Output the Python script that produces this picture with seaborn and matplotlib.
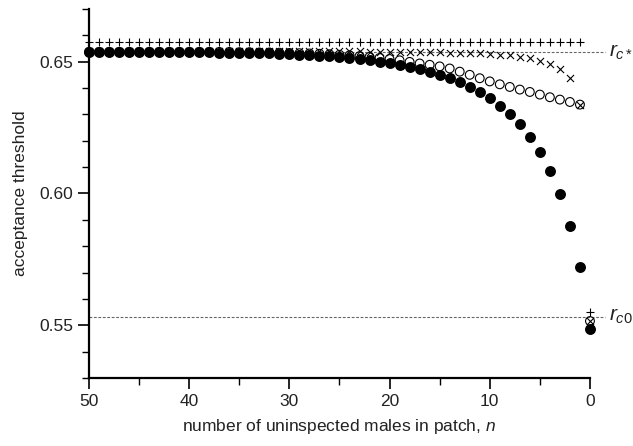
import matplotlib
matplotlib.use("Agg")
import matplotlib.pyplot as plt
from matplotlib.ticker import MultipleLocator, FormatStrFormatter
import seaborn as sns

# number of uninspected males left in the patch (50 -> 0)
N_MALES = [50, 49, 48, 47, 46, 45, 44, 43, 42, 41,
           40, 39, 38, 37, 36, 35, 34, 33, 32, 31,
           30, 29, 28, 27, 26, 25, 24, 23, 22, 21,
           20, 19, 18, 17, 16, 15, 14, 13, 12, 11,
           10, 9, 8, 7, 6, 5, 4, 3, 2, 1, 0]

# acceptance thresholds, one list per marker type (same order as N_MALES)
PLUS = [0.6575, 0.6575, 0.6575, 0.6575, 0.6575, 0.6575, 0.6575, 0.6575, 0.6575, 0.6575,
        0.6575, 0.6575, 0.6575, 0.6575, 0.6575, 0.6575, 0.6575, 0.6575, 0.6575, 0.6575,
        0.6575, 0.6575, 0.6575, 0.6575, 0.6575, 0.6575, 0.6575, 0.6575, 0.6575, 0.6575,
        0.6575, 0.6575, 0.6575, 0.6575, 0.6575, 0.6575, 0.6575, 0.6575, 0.6575, 0.6575,
        0.6575, 0.6575, 0.6575, 0.6575, 0.6575, 0.6575, 0.6575, 0.6575, 0.6575, 0.6575,
        0.5552]
CROSS = [0.6540, 0.6540, 0.6540, 0.6540, 0.6540, 0.6540, 0.6540, 0.6540, 0.6540, 0.6540,
         0.6540, 0.6540, 0.6540, 0.6540, 0.6540, 0.6540, 0.6540, 0.6540, 0.6540, 0.6540,
         0.6540, 0.6540, 0.6540, 0.6540, 0.6540, 0.6540, 0.6539, 0.6539, 0.6538, 0.6538,
         0.6537, 0.6537, 0.6536, 0.6536, 0.6535, 0.6535, 0.6534, 0.6533, 0.6532, 0.6531,
         0.6529, 0.6527, 0.6524, 0.6519, 0.6512, 0.6502, 0.6492, 0.6473, 0.6438, 0.6337,
         0.5516]
OPEN = [0.6537, 0.6537, 0.6537, 0.6537, 0.6537, 0.6537, 0.6537, 0.6537, 0.6537, 0.6537,
        0.6537, 0.6537, 0.6537, 0.6537, 0.6537, 0.6536, 0.6536, 0.6535, 0.6535, 0.6534,
        0.6533, 0.6532, 0.6531, 0.6530, 0.6528, 0.6526, 0.6524, 0.6521, 0.6518, 0.6514,
        0.6510, 0.6505, 0.6499, 0.6493, 0.6488, 0.6482, 0.6474, 0.6462, 0.6450, 0.6437,
        0.6425, 0.6414, 0.6404, 0.6394, 0.6385, 0.6375, 0.6365, 0.6356, 0.6347, 0.6337,
        0.5516]
FILLED = [0.6538, 0.6538, 0.6538, 0.6538, 0.6537, 0.6537, 0.6537, 0.6537, 0.6536, 0.6536,
          0.6536, 0.6535, 0.6535, 0.6534, 0.6534, 0.6533, 0.6533, 0.6532, 0.6531, 0.6530,
          0.6529, 0.6527, 0.6525, 0.6523, 0.6520, 0.6517, 0.6514, 0.6510, 0.6505, 0.6500,
          0.6494, 0.6487, 0.6480, 0.6471, 0.6461, 0.6450, 0.6438, 0.6423, 0.6405, 0.6384,
          0.6361, 0.6333, 0.6302, 0.6264, 0.6215, 0.6156, 0.6087, 0.5998, 0.5877, 0.5720,
          0.5485]

# reference thresholds drawn as dashed lines
R_C_STAR = 0.6537
R_C_ZERO = 0.5533

sns.set_theme(style="ticks")
plt.rcParams["font.family"] = ["Liberation Sans", "DejaVu Sans"]
plt.rcParams["mathtext.fontset"] = "custom"
plt.rcParams["mathtext.rm"] = "Liberation Sans"
plt.rcParams["mathtext.it"] = "Liberation Sans:italic"

fig = plt.figure(figsize=(6.33, 4.46), dpi=100)
ax = fig.add_axes([0.1406, 0.1525, 0.7914, 0.8275])

# dashed reference lines run a little past the right end of the axis
for level, label in [(R_C_STAR, r"$r_{c*}$"), (R_C_ZERO, r"$r_{c0}$")]:
    ax.axhline(level, xmin=0, xmax=1.03, clip_on=False, color="#666666",
               linewidth=0.8, linestyle=(0, (2.5, 1.5)), zorder=1)
    ax.text(1.038, level, label, transform=ax.get_yaxis_transform(),
            ha="left", va="center", fontsize=15, color="#222222")

common = dict(ax=ax, color="black", clip_on=False, legend=False)
sns.scatterplot(x=N_MALES, y=PLUS, marker="+", s=40, linewidth=0.8, zorder=3, **common)
sns.scatterplot(x=N_MALES, y=CROSS, marker="x", s=26, linewidth=0.8, zorder=3, **common)
sns.scatterplot(x=N_MALES, y=OPEN, marker="o", s=40, facecolor="none",
                edgecolor="black", linewidth=0.8, zorder=4, ax=ax,
                clip_on=False, legend=False)
sns.scatterplot(x=N_MALES, y=FILLED, marker="o", s=62, linewidth=0, zorder=5, **common)

ax.set_xlim(50, 0)
ax.set_ylim(0.53, 0.67)
ax.xaxis.set_major_locator(MultipleLocator(10))
ax.xaxis.set_minor_locator(MultipleLocator(5))
ax.yaxis.set_major_locator(MultipleLocator(0.05))
ax.yaxis.set_minor_locator(MultipleLocator(0.01))
ax.yaxis.set_major_formatter(FormatStrFormatter("%.2f"))

sns.despine(ax=ax)
for side in ["left", "bottom"]:
    ax.spines[side].set_linewidth(1.6)
    ax.spines[side].set_color("black")
ax.tick_params(which="major", length=8, width=1.2, colors="black",
               labelsize=12.5, labelcolor="#222222")
ax.tick_params(which="minor", length=5, width=1.0, colors="black")

ax.set_xlabel("number of uninspected males in patch, $n$", fontsize=12.5,
              color="#222222", labelpad=6)
ax.set_ylabel("acceptance threshold", fontsize=12.5, color="#222222", labelpad=8)

fig.savefig("out.png", dpi=100)
